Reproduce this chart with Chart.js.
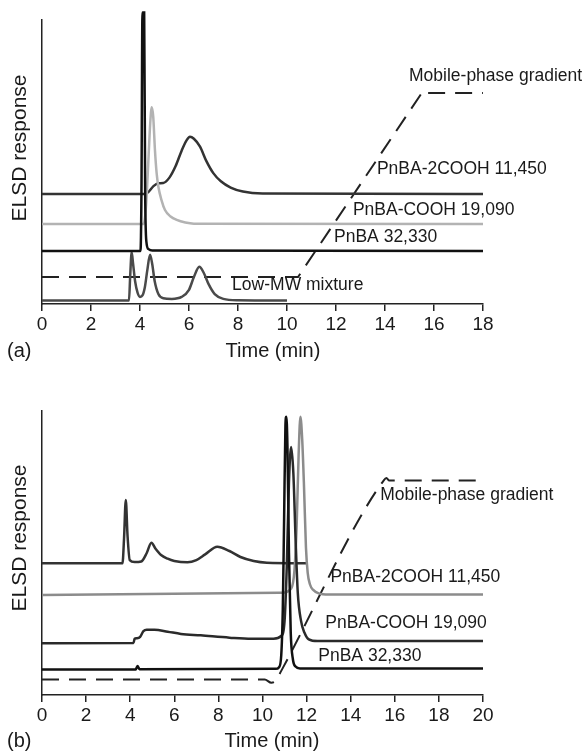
<!DOCTYPE html>
<html><head><meta charset="utf-8">
<script src="https://cdn.jsdelivr.net/npm/chart.js@4/dist/chart.umd.min.js"></script>
<style>
html,body{margin:0;padding:0;background:#fff;}
#wrap{position:relative;width:584px;height:751px;overflow:hidden;}
.pane{position:absolute;left:0;width:584px;}
canvas{display:block;}
</style></head><body>
<div id="wrap">
<div class="pane" style="top:0;height:370px"><canvas id="ca" width="584" height="370"></canvas></div>
<div class="pane" style="top:375px;height:376px"><canvas id="cb" width="584" height="376"></canvas></div>
</div>
<script>
const FONT = "'Liberation Sans', Arial, Helvetica, sans-serif";

// ---------- Panel (a) ----------
const ticksA = [0, 2, 4, 6, 8, 10, 12, 14, 16, 18];

const tA_PnBA = [0, 4.02, 4.06, 4.1, 4.17, 4.21, 4.26, 4.35, 4.5, 18];
const vA_PnBA = [18.7, 18.7, 40, 102.6, 102.6, 40, 22, 19.3, 18.8, 18.7];

const tA_COOH = [0, 4.15, 4.25, 4.35, 4.42, 4.48, 4.54, 4.61, 4.68, 4.75, 4.88, 5.02, 5.25, 5.5, 5.85, 6.2, 18];
const vA_COOH = [28.2, 28.2, 35, 52, 64, 69.3, 66, 54.2, 46, 41.3, 36.5, 33.1, 30.8, 29.6, 28.7, 28.3, 28.2];

const tA_2COOH = [0, 4.2, 4.35, 4.55, 4.75, 4.95, 5.2, 5.45, 5.7, 5.9, 6.04, 6.2, 6.45, 6.7, 7.0, 7.3, 7.7, 8.2, 9.0, 18];
const vA_2COOH = [38.7, 38.7, 39.5, 41.5, 42.5, 42.6, 44.5, 48.5, 54, 57.6, 58.9, 58.2, 55.4, 50.5, 46, 43.2, 41, 39.6, 38.9, 38.7];

const tA_Low = [0, 3.55, 3.6, 3.66, 3.72, 3.8, 3.9, 4.0, 4.1, 4.2, 4.3, 4.41, 4.5, 4.6, 4.75, 4.95, 5.3, 5.7, 6.0, 6.2, 6.42, 6.6, 6.8, 7.05, 7.4, 8.0, 10];
const vA_Low = [1.2, 1.2, 10, 18.2, 14, 8, 4, 2.5, 3, 6, 12, 17.3, 14, 8, 3.5, 2, 1.8, 2.5, 5, 9.5, 13.1, 11, 7, 3.5, 1.8, 1.3, 1.2];

const tA_Grad = [0, 10.45, 15.5, 15.62, 15.75, 18];
const vA_Grad = [9.5, 9.5, 74.3, 75.2, 74.3, 74.3];

// ---------- Panel (b) ----------
const ticksB = [0, 2, 4, 6, 8, 10, 12, 14, 16, 18, 20];

const tB_PnBA = [0, 4.25, 4.33, 4.42, 10.6, 10.75, 10.85, 10.92, 10.98, 11.04, 11.08, 11.13, 11.2, 11.28, 11.38, 11.5, 11.7, 20];
const vB_PnBA = [9.0, 9.0, 10.2, 9.1, 9.2, 9.8, 14, 30, 62, 95, 98, 88, 50, 22, 12.5, 10, 9.3, 9.3];

const tB_COOH = [0, 4.15, 4.2, 4.3, 4.45, 4.6, 4.75, 5.1, 5.7, 6.3, 7.2, 8.5, 9.5, 10.5, 10.85, 11.0, 11.1, 11.2, 11.3, 11.4, 11.5, 11.6, 11.75, 11.9, 12.1, 12.5, 20];
const vB_COOH = [18.2, 18.3, 19.8, 20, 20.5, 22.5, 23, 23, 22.3, 21.5, 21, 20.2, 19.8, 19.8, 20.8, 26, 45, 75, 87.3, 78, 55, 36, 26, 22, 19.6, 19, 19];

const tB_2COOH = [0, 10.9, 11.3, 11.45, 11.55, 11.64, 11.72, 11.8, 11.88, 11.97, 12.05, 12.15, 12.3, 12.55, 13.0, 20];
const vB_2COOH = [35.2, 36.0, 37.5, 44, 60, 85, 98, 90, 74, 52, 43, 39, 37, 35.8, 35.4, 35.4];

const tB_Mix = [0, 3.65, 3.72, 3.8, 3.88, 3.98, 4.2, 4.5, 4.75, 4.96, 5.15, 5.4, 5.7, 6.0, 6.6, 7.0, 7.4, 7.95, 8.5, 9.0, 9.6, 10.2, 12.0];
const vB_Mix = [46.4, 46.4, 55, 68.7, 56, 47.5, 46.8, 47, 50, 53.6, 51.5, 49.3, 48, 47.2, 46.7, 47.5, 49.5, 52.2, 50.7, 48.6, 47.2, 46.6, 46.4];

const tB_Grad = [0, 10.1, 10.4, 10.6, 10.85, 15.5, 15.62, 15.75, 20];
const vB_Grad = [5.5, 5.5, 4.3, 5.0, 8.5, 75.6, 76.4, 75.5, 75.5];

// ---------- Text ----------
const labelsA = ['Mobile-phase gradient', 'PnBA-2COOH 11,450', 'PnBA-COOH 19,090', 'PnBA 32,330', 'Low-MW mixture'];
const labelsB = ['Mobile-phase gradient', 'PnBA-2COOH 11,450', 'PnBA-COOH 19,090', 'PnBA 32,330'];
const xTitle = 'Time (min)';
const yTitle = 'ELSD response';

function pts(t, v) { return t.map((x, i) => ({ x, y: v[i] })); }

function line(data, color, extra) {
  return Object.assign({
    data, borderColor: color, borderWidth: 2.5, pointRadius: 0,
    cubicInterpolationMode: 'monotone', fill: false, clip: false
  }, extra || {});
}

const textPlugin = {
  id: 'panelText',
  afterDraw(chart, args, o) {
    const { ctx } = chart;
    const x = chart.scales.x, y = chart.scales.y;
    ctx.save();
    ctx.fillStyle = '#1a1a1a';
    ctx.textBaseline = 'middle';
    ctx.textAlign = 'left';
    ctx.font = '17.5px ' + FONT;
    o.labels.forEach((txt, i) => {
      const p = o.labelPos[i];
      ctx.fillText(txt, x.getPixelForValue(p[0]), y.getPixelForValue(p[1]));
    });
    ctx.font = '20px ' + FONT;
    ctx.textAlign = 'center';
    ctx.fillText(o.xTitle, o.xTitleX, o.xTitleY);
    ctx.textAlign = 'left';
    ctx.fillText(o.panel, o.panelX, o.xTitleY);
    ctx.translate(o.yTitleX, o.yTitleY);
    ctx.rotate(-Math.PI / 2);
    ctx.textAlign = 'center';
    ctx.font = '21px ' + FONT;
    ctx.fillText(o.yTitle, 0, 0);
    ctx.restore();
  }
};

function makeOptions(ticks, xmax, padTop, xHeight, textOpts) {
  return {
    responsive: false, animation: false,
    layout: { padding: { left: 42, right: 101, top: padTop, bottom: 0 } },
    plugins: { legend: { display: false }, tooltip: { enabled: false }, panelText: textOpts },
    scales: {
      x: {
        type: 'linear', min: 0, max: xmax,
        afterBuildTicks: s => { s.ticks = ticks.map(v => ({ value: v })); },
        afterFit: s => { s.height = xHeight; },
        grid: { drawOnChartArea: false, drawTicks: true, tickLength: 7, color: '#222', lineWidth: 1.5 },
        border: { display: true, color: '#222', width: 1.5 },
        ticks: { color: '#1a1a1a', padding: 2, font: { family: FONT, size: 19 }, maxRotation: 0, autoSkip: false }
      },
      y: {
        min: 0, max: 100,
        afterFit: s => { s.width = 0; },
        grid: { display: false },
        border: { display: true, color: '#222', width: 1.5 },
        ticks: { display: false }
      }
    }
  };
}

new Chart(document.getElementById('ca'), {
  type: 'line',
  data: {
    datasets: [
      line(pts(tA_PnBA, vA_PnBA), '#111111'),
      line(pts(tA_COOH, vA_COOH), '#b3b3b3'),
      line(pts(tA_2COOH, vA_2COOH), '#333333'),
      line(pts(tA_Low, vA_Low), '#4a4a4a'),
      line(pts(tA_Grad, vA_Grad), '#222222', { borderWidth: 2, borderDash: [17, 10], cubicInterpolationMode: 'default', tension: 0 })
    ]
  },
  options: makeOptions(ticksA, 18, 20, 66, {
    labels: labelsA,
    labelPos: [[14.98, 80.3], [13.67, 47.5], [12.69, 33.1], [11.92, 23.6], [7.76, 6.7]],
    xTitle, yTitle, panel: '(a)',
    xTitleX: 273, xTitleY: 351, panelX: 7, yTitleX: 20, yTitleY: 148
  }),
  plugins: [textPlugin]
});

new Chart(document.getElementById('cb'), {
  type: 'line',
  data: {
    datasets: [
      line(pts(tB_PnBA, vB_PnBA), '#111111'),
      line(pts(tB_COOH, vB_COOH), '#2a2a2a'),
      line(pts(tB_2COOH, vB_2COOH), '#8c8c8c'),
      line(pts(tB_Mix, vB_Mix), '#333333'),
      line(pts(tB_Grad, vB_Grad), '#222222', { borderWidth: 2, borderDash: [17, 10], tension: 0.2, cubicInterpolationMode: 'monotone' })
    ]
  },
  options: makeOptions(ticksB, 20, 36, 56, {
    labels: labelsB,
    labelPos: [[15.34, 70.4], [13.08, 41.5], [12.85, 25.4], [12.53, 13.7]],
    xTitle, yTitle, panel: '(b)',
    xTitleX: 272, xTitleY: 366, panelX: 7, yTitleX: 20, yTitleY: 163
  }),
  plugins: [textPlugin]
});
</script>
</body></html>
